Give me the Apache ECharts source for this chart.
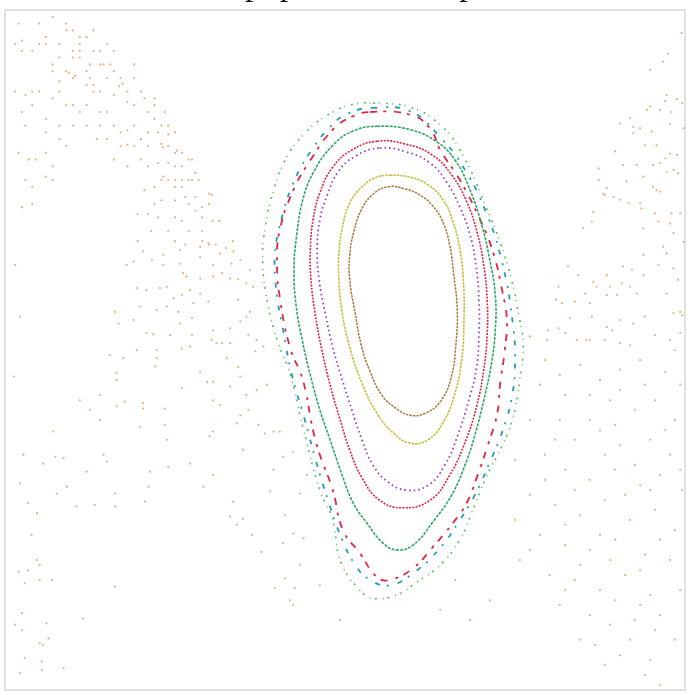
<!DOCTYPE html>
<html>
<head>
<meta charset="utf-8">
<script src="https://cdn.jsdelivr.net/npm/echarts@6/dist/echarts.min.js"></script>
<style>
  html, body { margin: 0; padding: 0; background: #fff; }
  #chart { width: 690px; height: 695px; }
</style>
</head>
<body>
<div id="chart"></div>
<script>
// Phase-space coordinates, both axes in percent of the unit cell.

// Chaotic sea (single long orbit), split by region of the cell
const seaUpperLeft = [
  [7,99],[2,98],[5,98],[9,98],[9,97],[10,97],[6,96],[11,96],[12,96],[13,97],
  [1.5,95],[2.5,95.5],[2.5,94],[4,94],[5,95],[6,95],[8,95],[10,94],[11,95],[11,94],
  [13,94],[14,94],[15,95],[16,94],[7,92],[8,93],[10,93],[11,93],[12.5,92],[14,92],
  [14.5,92],[15.5,92],[9,91],[9.4,90.8],[10,90],[12,91],[7,91],[19,92],[19,90],[16,91],
  [17,90],[8,89.5],[10.3,90.3],[12,89],[12.5,90],[13,89],[13,88],[14,88],[15,90],[17.3,89.2],
  [16.8,88.8],[18,88],[20,88],[1.5,88],[3,87.5],[4,88],[5,88],[4,86],[7,87],[8,88],
  [9,86],[10,86],[11,85],[12,86],[14,85],[15,85],[16,87.5],[18,86.5],[19,86],[20.5,87],
  [22,87],[22,86],[21,85],[22,84],[23.5,85],[6,84],[2.5,85],[3,83],[6,82],[8,83],
  [10,83],[12,83],[14,83],[16,83],[17,82],[18,82.3],[19,83],[21,82],[23,83],[24,83],
  [25,82],[22.5,82],[24,81.7],[8,81],[9,80],[13.5,81],[15,81],[17,80],[18,80.2],[19,80],
  [20,81],[21,80],[23,80.3],[23.2,79.8],[24,80],[25,79],[26,79],[25.3,79.3],[27,78],[27.5,78],
  [2,79],[3.5,78],[4.5,78],[6,79],[7,77],[16,78],[18,77],[20,78],[21,77],[22.5,77.5],
  [24,77.5],[25,77],[26,77],[28,76],[28.5,75],[6,75.5],[7,75],[3,75],[4,74],[20.5,73.5],
  [22,74],[23,75],[23.3,75.5],[24,75],[25,75],[26,75],[27,75],[27.5,75],[25,74],[26,74],
  [30,73],[30.4,72.8],[26.5,72.5],[28,72.5],[4,71.5],[2.5,71],[22,71.5],[23,72],[25,72],[27,71.5],
  [30,71.5],[28,70.5],[29,71],[19.5,70],[21,70],[22.5,69.5],[25,69.5],[26,69],[29,69.5],[30.5,69],
  [31.5,69],[21.5,67.5],[24,67.5],[27,67.5],[29,67.5],[19.5,66],[25,66],[26.5,65.5],[29,66],[30,65.5],
  [31,65.5],[32.5,65],[33.5,66]
];

const seaLowerLeft = [
  [20.3,64.5],[23.3,64.0],[25.7,64.7],[28.7,65.2],[29.9,65.7],[31.6,64.2],[33.6,64.5],[17.9,62.5],[18.9,63.0],[21.6,63.2],
  [23.3,62.5],[25.7,62.7],[28.7,63.7],[30.6,62.5],[33.3,62.7],[34.6,63.2],[26.2,61.3],[26.7,60.8],[28.7,60.5],[30.6,60.8],
  [31.9,61.3],[33.1,60.5],[34.3,60.4],[35.5,59.8],[36.5,59.3],[22.8,59.1],[23.8,59.3],[20.8,58.8],[19.4,59.1],[24.8,57.6],
  [26.0,58.1],[27.2,58.8],[28.7,58.3],[29.9,57.1],[27.7,56.9],[34.3,57.4],[36.0,61.8],[1.5,62.5],[16.2,55.6],[16.7,53.9],
  [18.9,54.4],[19.9,56.4],[22.3,55.9],[23.8,56.4],[25.5,55.6],[27.5,54.7],[30.6,52.9],[33.1,53.2],[34.6,54.2],[35.5,54.9],
  [36.0,55.6],[20.8,52.5],[21.8,52.3],[24.3,52.2],[25.7,53.9],[27.5,52.2],[30.4,51.5],[31.1,51.0],[31.9,51.0],[33.1,51.0],
  [35.8,52.2],[37.0,51.5],[2.2,54.9],[15.4,49.3],[17.4,48.8],[19.4,50.0],[22.3,50.0],[22.3,48.8],[26.0,50.2],[27.2,50.5],
  [32.6,48.8],[34.3,47.5],[36.8,49.8],[38.0,50.5],[22.1,47.6],[16.4,46.6],[16.4,45.6],[1.3,46.1],[28.7,46.8],[29.7,45.3],
  [30.6,45.3],[33.1,44.6],[34.6,46.1],[35.5,43.4],[37.0,44.1],[38.5,44.9],[26.0,44.4],[11.0,42.6],[12.5,41.2],[14.0,43.4],
  [14.0,39.7],[16.4,41.7],[17.6,42.4],[20.3,42.2],[20.3,41.4],[23.5,41.4],[23.5,39.0],[19.9,38.7],[30.6,42.6],[31.6,41.9],
  [34.6,40.4],[35.8,41.2],[37.3,39.0],[38.2,37.7],[39.5,38.0],[40.4,38.0],[30.1,37.3],[30.6,38.0],[34.1,39.2],[7.1,38.0],
  [23.8,36.8],[2.7,34.6],[5.6,33.3],[7.4,34.3],[8.6,34.1],[12.0,32.1],[14.5,34.6],[15.0,33.6],[21.3,32.1],[24.0,32.8],
  [27.2,33.3],[30.6,31.6],[29.2,29.9],[21.1,29.9],[2.2,30.4],[9.1,29.9],[7.6,28.9],[16.2,28.9],[16.2,27.0],[20.6,27.7],
  [10.5,27.0],[13.2,27.2],[3.4,27.5],[4.7,26.0],[35.0,35.3],[39.5,32.4],[40.9,34.3],[42.4,35.0],[44.4,31.6],[39.0,29.2],
  [43.4,28.9],[41.2,25.7],[33.6,27.7],[33.1,25.5],[34.1,24.3],[35.0,25.2],[36.3,22.8],[42.4,23.0],[43.9,22.3],[37.7,20.3],
  [40.9,21.6],[3.9,22.8],[4.7,19.1],[5.1,18.4],[3.4,17.6],[2.0,17.4],[2.9,15.7],[5.1,16.2],[6.9,16.2],[16.2,15.2],
  [41.2,16.4],[39.7,15.0],[42.6,15.0],[42.4,12.5],[2.5,11.3],[1.5,9.6],[2.5,8.8],[6.1,9.8],[11.5,10.5],[6.4,7.6],
  [5.1,6.9],[5.6,6.6],[2.9,4.7],[5.4,4.2],[8.6,3.2],[5.4,2.9],[2.2,2.5],
  [43.4,18.4],[46.3,15.4],[41.9,13.2],[49.3,10.3]
];

const seaUpperRight = [
  [99.5,96.6],[97.5,93.6],[96.8,92.4],[94.9,91.2],[97.3,87.5],[98.8,86.9],[97.1,86.6],[99.6,86.3],[94.9,85.8],[94.4,85.3],
  [96.3,85.3],[98.0,85.0],[91.9,84.1],[90.4,83.3],[92.4,82.8],[93.4,82.6],[92.4,81.9],[97.8,83.2],[99.8,82.6],[95.1,82.1],
  [94.1,80.1],[95.8,80.1],[97.8,78.9],[98.8,78.7],[97.1,78.2],[96.3,77.5],[95.3,77.2],[92.9,77.2],[90.9,77.2],[98.3,76.5],
  [99.0,76.0],[97.3,76.2],[93.9,75.5],[91.4,74.8],[95.3,74.0],[96.3,73.3],[95.8,73.5],[89.7,79.2],[87.3,76.7],[87.3,75.0],
  [88.5,73.8],[88.0,73.0],[88.2,72.8],[89.5,72.5],[90.4,72.1],[91.7,71.6],[93.4,71.6],[93.6,70.8],[86.5,70.3],[86.3,68.9],
  [85.0,67.9],[95.6,70.1],[98.0,70.1],[99.3,70.1],[96.1,68.9],[97.8,68.6],[93.9,67.9],[98.3,67.2],[99.8,65.9],[96.8,65.2],
  [97.3,64.2],[93.9,64.0],[90.9,62.3],[92.2,61.8],[93.9,61.0],[96.1,62.5],[98.3,62.0],[88.5,61.0],[86.5,60.0],[87.0,59.3],
  [89.0,59.3],[90.7,59.8],[91.9,59.3],[82.8,62.3],[84.3,61.0],[81.4,59.3],[85.3,58.3],[88.5,58.1],[90.0,58.1],[92.9,58.3],
  [97.3,58.3],[99.0,60.3],[99.3,55.6],[98.3,55.4],[83.8,57.1],[86.0,56.9],[81.9,56.9],[86.3,54.9],[90.4,54.4],[92.4,53.9],
  [88.5,53.4],[94.1,54.9],[81.4,53.2],[82.4,52.5],[84.1,51.5],[85.5,51.5],[88.2,51.5],[90.4,51.0],[79.7,51.5],[77.2,52.0],
  [97.8,51.5],[99.3,52.5],[99.6,55.1]
];

const seaLowerRight = [
  [79.4,48.5],[81.6,46.3],[84.6,47.8],[87.5,45.6],[90.4,47.1],[93.4,48.5],[97.1,46.8],[99.3,44.9],[86.0,43.4],[89.0,42.6],
  [92.6,41.2],[95.6,42.6],[98.5,39.7],[81.6,39.7],[83.8,36.8],[87.5,38.2],[90.4,36.0],[94.9,36.8],[97.8,34.6],[79.4,34.6],
  [82.4,32.4],[86.0,30.9],[89.7,32.4],[93.4,30.1],[96.3,31.6],[99.6,29.4],[77.2,28.7],[80.9,27.2],[84.6,25.7],[88.2,27.9],
  [91.9,25.0],[95.6,26.5],[98.5,23.5],[78.7,22.8],[82.4,21.3],[86.0,20.6],[89.7,22.1],[94.1,19.9],[97.8,19.1],[75.7,19.1],
  [80.1,16.9],[83.8,16.2],[87.5,14.7],[91.2,16.9],[94.9,14.0],[99.3,14.7],[81.6,12.5],[86.0,11.0],[89.0,9.6],[92.6,10.3],
  [95.6,8.8],[98.5,7.4],[86.8,6.6],[90.4,5.1],[94.9,4.4],[94.1,2.2],[96.3,0.7],[71.3,13.2],[68.4,10.3],[66.2,16.2],
  [64.0,11.8],
  [81.0,57.4],[83.1,54.7],[79.9,52.9],[86.0,51.5],[89.3,52.9],[91.9,50.7],[95.6,52.2],[98.5,50.0],[78.7,44.9],[82.4,43.4],
  [90.4,44.1],[94.1,44.9],[77.2,39.7],[86.0,39.7],[89.7,39.0],[97.1,38.2],[75.0,33.8],[80.9,36.8],[88.2,34.6],[92.6,33.1],
  [99.3,32.4],[79.4,30.9],[83.8,29.4],[91.2,28.7],[94.9,29.4],[75.0,25.0],[82.4,24.3],[87.5,22.8],[96.3,22.1],[77.2,20.6],
  [84.6,18.4],[89.0,19.1],[93.4,17.6],[82.4,14.7],[89.7,13.2],[93.4,12.5],[96.3,11.0],[84.6,7.4],[91.9,7.4],[88.2,3.7]
];

// Regular orbits of the central resonance island, listed around each loop
const brownOrbit = [
  [56.3,74.0],[58.8,73.7],[61.0,72.8],[62.8,71.3],[64.4,68.8],[65.4,65.4],[66.0,61.0],[66.5,55.9],
  [66.3,50.7],[65.6,45.9],[64.0,42.4],[61.8,40.7],[59.6,40.4],[57.4,41.5],[55.4,43.4],[53.7,46.8],
  [52.4,50.7],[51.5,55.4],[50.7,60.3],[50.7,64.0],[51.3,67.4],[52.4,70.6],[54.0,72.8]
];
const oliveOrbit = [
  [56.6,75.7],[59.6,75.4],[62.2,74.3],[64.4,72.1],[65.9,68.8],[66.9,64.7],[67.4,60.3],[67.5,54.4],
  [67.1,48.1],[66.0,43.1],[64.4,39.3],[62.2,36.8],[59.6,36.3],[57.1,37.8],[54.7,40.7],[52.5,45.1],
  [50.7,50.4],[49.6,55.4],[49.1,60.3],[49.1,64.0],[49.6,67.9],[50.7,71.6],[52.5,74.0],[54.4,75.3]
];
const purpleOrbit = [
  [55.1,79.7],[59.1,79.1],[62.5,77.5],[65.0,74.6],[66.9,71.0],[68.4,66.9],[69.3,62.2],[69.7,57.4],
  [69.7,52.2],[69.3,47.1],[68.2,42.6],[66.6,37.5],[64.7,33.1],[62.2,30.1],[59.1,29.4],[56.3,30.6],
  [54.1,33.1],[52.5,36.8],[51.0,41.2],[49.6,45.6],[48.2,50.4],[47.1,55.4],[46.2,60.3],[45.9,64.7],
  [46.3,69.1],[47.4,72.8],[49.0,76.2],[51.5,78.5]
];
const redOrbit = [
  [54.7,80.7],[58.8,80.3],[62.8,78.7],[65.7,75.7],[67.9,71.8],[69.4,67.4],[70.4,62.5],[70.9,57.4],
  [70.9,52.2],[70.4,47.1],[69.4,41.9],[67.8,36.8],[65.4,31.6],[62.5,27.9],[58.5,26.8],[55.1,27.9],
  [52.5,31.2],[50.7,35.3],[49.3,39.7],[47.8,44.9],[46.6,50.0],[45.6,55.4],[45.0,60.3],[44.9,64.7],
  [45.3,69.1],[46.3,73.1],[48.2,76.9],[51.0,79.4]
];
const greenOrbit = [
  [54.7,82.9],[59.6,82.4],[63.5,80.6],[66.2,77.9],[68.4,73.5],[70.1,68.4],[71.3,63.2],[72.1,58.1],
  [72.1,52.9],[71.5,47.8],[70.4,42.6],[69.3,38.2],[67.8,33.5],[65.7,28.7],[62.9,24.7],[60.0,21.3],
  [57.6,20.6],[55.6,21.6],[53.2,24.6],[51.2,27.5],[49.3,32.4],[47.8,36.8],[46.3,41.2],[44.9,46.3],
  [43.7,51.5],[42.8,56.6],[42.5,61.8],[42.9,66.9],[43.8,72.1],[45.4,76.2],[48.2,80.1],[51.2,82.2]
];

// Broken island chain at the edge of the resonance
const redChain = [
  [53.7,85.0],[59.6,84.6],[62.5,82.6],[64.0,79.4],[66.9,75.0],[69.9,69.1],[71.8,64.3],[73.1,58.8],
  [73.8,54.4],[73.5,50.0],[72.8,44.9],[72.4,40.7],[71.0,36.0],[69.4,31.3],[67.9,27.5],[65.9,24.6],
  [62.9,21.0],[60.0,17.9],[56.6,16.2],[54.7,16.6],[52.2,20.1],[49.7,23.5],[48.2,29.4],[46.3,34.6],
  [45.3,38.2],[43.8,45.6],[41.9,50.4],[40.4,57.8],[40.0,62.8],[40.4,67.6],[42.4,73.5],[44.9,77.9],
  [48.2,82.4],[51.0,84.3]
];
const tealChain = [
  [54.0,85.6],[59.6,85.1],[64.0,81.3],[67.2,77.2],[70.6,70.6],[73.2,62.5],[74.7,53.7],[75.0,48.5],
  [74.6,43.4],[73.2,38.2],[71.3,33.5],[69.1,28.7],[66.9,25.0],[64.0,20.9],[60.3,17.4],[56.6,15.4],
  [53.7,16.2],[51.5,18.4],[49.3,22.8],[47.5,27.9],[45.7,33.8],[44.1,39.7],[42.2,46.3],[40.9,52.9],
  [39.9,58.8],[39.7,64.0],[40.7,69.4],[42.6,75.0],[45.1,79.4],[48.5,83.5],[51.0,85.0]
];
const outerChain = [
  [54.1,86.3],[59.6,85.7],[64.0,83.1],[66.9,79.4],[70.3,72.1],[73.8,62.8],[75.7,54.4],[76.2,50.7],
  [75.7,45.6],[74.6,39.7],[72.8,35.3],[70.9,31.6],[68.8,26.5],[66.9,22.1],[64.0,18.4],[60.6,15.9],
  [57.6,14.0],[54.1,13.5],[51.8,15.1],[49.3,19.1],[48.2,25.0],[46.3,29.4],[43.8,38.7],[41.9,46.6],
  [40.0,51.5],[38.4,58.1],[37.9,63.2],[38.2,67.6],[39.3,72.8],[41.2,77.9],[44.1,81.9],[48.2,85.0],
  [51.5,86.2]
];

const chartTitle = 'Standard map: pendulum in perturbed motion';

// A closed orbit drawn as one smooth ring through its points
function orbitSeries(name, pts, color, dash, width) {
  return {
    type: 'custom',
    name: name,
    coordinateSystem: 'cartesian2d',
    data: pts,
    encode: { x: 0, y: 1 },
    silent: true,
    renderItem: function (params, api) {
      if (params.dataIndex !== 0) return null;
      const ring = pts.map(function (p) { return api.coord(p); });
      return {
        type: 'polygon',
        shape: { points: ring, smooth: 0.45 },
        style: { fill: null, stroke: color, lineWidth: width, lineDash: dash }
      };
    }
  };
}

const seaPoints = seaUpperLeft.concat(seaLowerLeft, seaUpperRight, seaLowerRight);

const chart = echarts.init(document.getElementById('chart'), null, { renderer: 'canvas' });
chart.setOption({
  animation: false,
  backgroundColor: '#ffffff',
  title: {
    text: chartTitle,
    left: 74,
    top: -31,
    padding: 0,
    textStyle: { fontFamily: 'Liberation Serif', fontSize: 34, fontWeight: 'normal', color: '#111' }
  },
  grid: { left: 5, top: 10, width: 680, height: 680, show: true, borderColor: '#d8d8d8', borderWidth: 1.5, backgroundColor: 'transparent' },
  xAxis: { type: 'value', min: 0, max: 100, show: false },
  yAxis: { type: 'value', min: 0, max: 100, show: false },
  series: [
    {
      type: 'scatter',
      name: 'chaotic sea',
      data: seaPoints,
      symbol: 'circle',
      symbolSize: 2.2,
      itemStyle: { color: '#d9945c', opacity: 0.75 },
      silent: true
    },
    orbitSeries('outer chain', outerChain, '#55bf55', [2, 4, 1, 6], 1.6),
    orbitSeries('teal chain', tealChain, '#1d9fb5', [5, 9, 2, 7], 1.8),
    orbitSeries('red chain', redChain, '#e3263d', [7, 6, 3, 8], 1.8),
    orbitSeries('green orbit', greenOrbit, '#2ea864', [3, 1.2], 1.6),
    orbitSeries('red orbit', redOrbit, '#dc1f45', [2, 1.3], 1.6),
    orbitSeries('purple orbit', purpleOrbit, '#9b3fc6', [1.6, 3], 1.8),
    orbitSeries('olive orbit', oliveOrbit, '#c6bd3a', [2.5, 1], 1.6),
    orbitSeries('brown orbit', brownOrbit, '#a97a3c', [2.5, 1], 1.5)
  ]
});
</script>
</body>
</html>
